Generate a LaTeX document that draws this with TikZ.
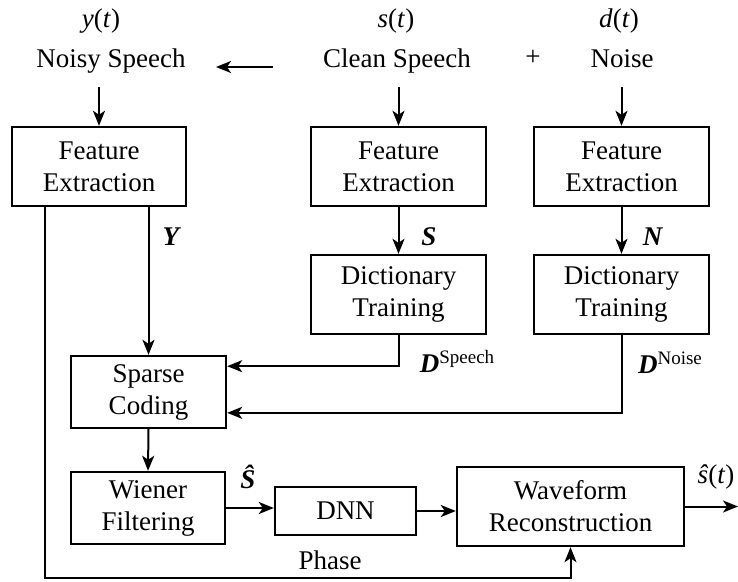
\documentclass[tikz,border=0pt]{standalone}
\usepackage{fontspec}
\setmainfont{Liberation Serif}
\usetikzlibrary{arrows.meta,calc}
\begin{document}
\begin{tikzpicture}[x=1pt,y=-1pt,
 txt/.style={font=\fontsize{27}{32}\selectfont, inner sep=0pt, align=center},
 blk/.style={txt, draw, line width=2.4pt, minimum height=79pt},
 arr/.style={line width=2pt, -{Stealth[length=15pt,width=12pt,inset=4pt]}}]
\useasboundingbox (0,0) rectangle (738,581);
% top labels
\node[txt, anchor=base] (yt) at (101,27) {\textit{y}(\textit{t})};
\node[txt, anchor=base] (ns) at (111,67) {Noisy Speech};
\node[txt, anchor=base] (st) at (396,27) {\textit{s}(\textit{t})};
\node[txt, anchor=base] (cs) at (397,67) {Clean Speech};
\node[txt] (plus) at (533,58) {+};
\node[txt, anchor=base] (dt) at (619,27) {\textit{d}(\textit{t})};
\node[txt, anchor=base] (nz) at (622,67) {Noise};
% blocks
\node[blk, minimum width=174pt] (fe1) at (99,166.5) {Feature\\Extraction};
\node[blk, minimum width=175pt] (fe2) at (398.5,166.5) {Feature\\Extraction};
\node[blk, minimum width=175pt] (fe3) at (621.5,166.5) {Feature\\Extraction};
\node[blk, minimum width=175pt] (dt1) at (398.5,294.5) {Dictionary\\Training};
\node[blk, minimum width=175pt] (dt2) at (621.5,294.5) {Dictionary\\Training};
\node[blk, minimum width=155pt, minimum height=72pt] (sc) at (148.5,392) {Sparse\\Coding};
\node[blk, minimum width=154pt, minimum height=72pt] (wn) at (148,508) {Wiener\\Filtering};
\node[blk, minimum width=141pt, minimum height=48pt] (dnn) at (345.5,511) {DNN};
\node[blk, minimum width=227pt] (wf) at (570.5,506.5) {Waveform\\Reconstruction};
% labels
\node[txt] (ly) at (172,237) {\textbf{\textit{Y}}};
\node[txt] (ls) at (429,237) {\textbf{\textit{S}}};
\node[txt] (lnn) at (653,237) {\textbf{\textit{N}}};
\node[txt] (ld1) at (457,361) {\textbf{\textit{D}}\raisebox{9pt}{\fontsize{19}{20}\selectfont Speech}};
\node[txt] (ld2) at (670,363) {\textbf{\textit{D}}\raisebox{9pt}{\fontsize{19}{20}\selectfont Noise}};
\node[txt] (lsh) at (248,477) {\textbf{\textit{Ŝ}}};
\node[txt] (lout) at (716,477) {\textit{ŝ}(\textit{t})};
\node[txt] (ph) at (330,560) {Phase};
% connectors
\coordinate (ta) at (273,67);
\coordinate (tb) at (216,67);
\draw[arr] (ta) -- (tb);
\draw[arr] (fe1.north |- 0,87) -- (fe1.north);
\draw[arr] (fe2.north |- 0,87) -- (fe2.north);
\draw[arr] (fe3.north |- 0,87) -- (fe3.north);
\draw[arr] (fe1.south -| sc.north) -- (sc.north);
\draw[arr] (fe2.south) -- (dt1.north);
\draw[arr] (fe3.south) -- (dt2.north);
\draw[arr] (dt1.south) |- ($(sc.north east)!0.153!(sc.south east)$);
\draw[arr] (dt2.south) |- ($(sc.north east)!0.78!(sc.south east)$);
\draw[arr] (sc.south) -- (wn.north);
\draw[arr] (wn.east) -- (wn.east -| dnn.west);
\draw[arr] (dnn.east) -- (dnn.east -| wf.west);
\coordinate (out) at (738,506.5);
\draw[arr] (wf.east) -- (out);
\coordinate (p) at (45,578);
\draw[arr] (fe1.south -| p) -- (p) -| (wf.south);
\end{tikzpicture}
\end{document}
